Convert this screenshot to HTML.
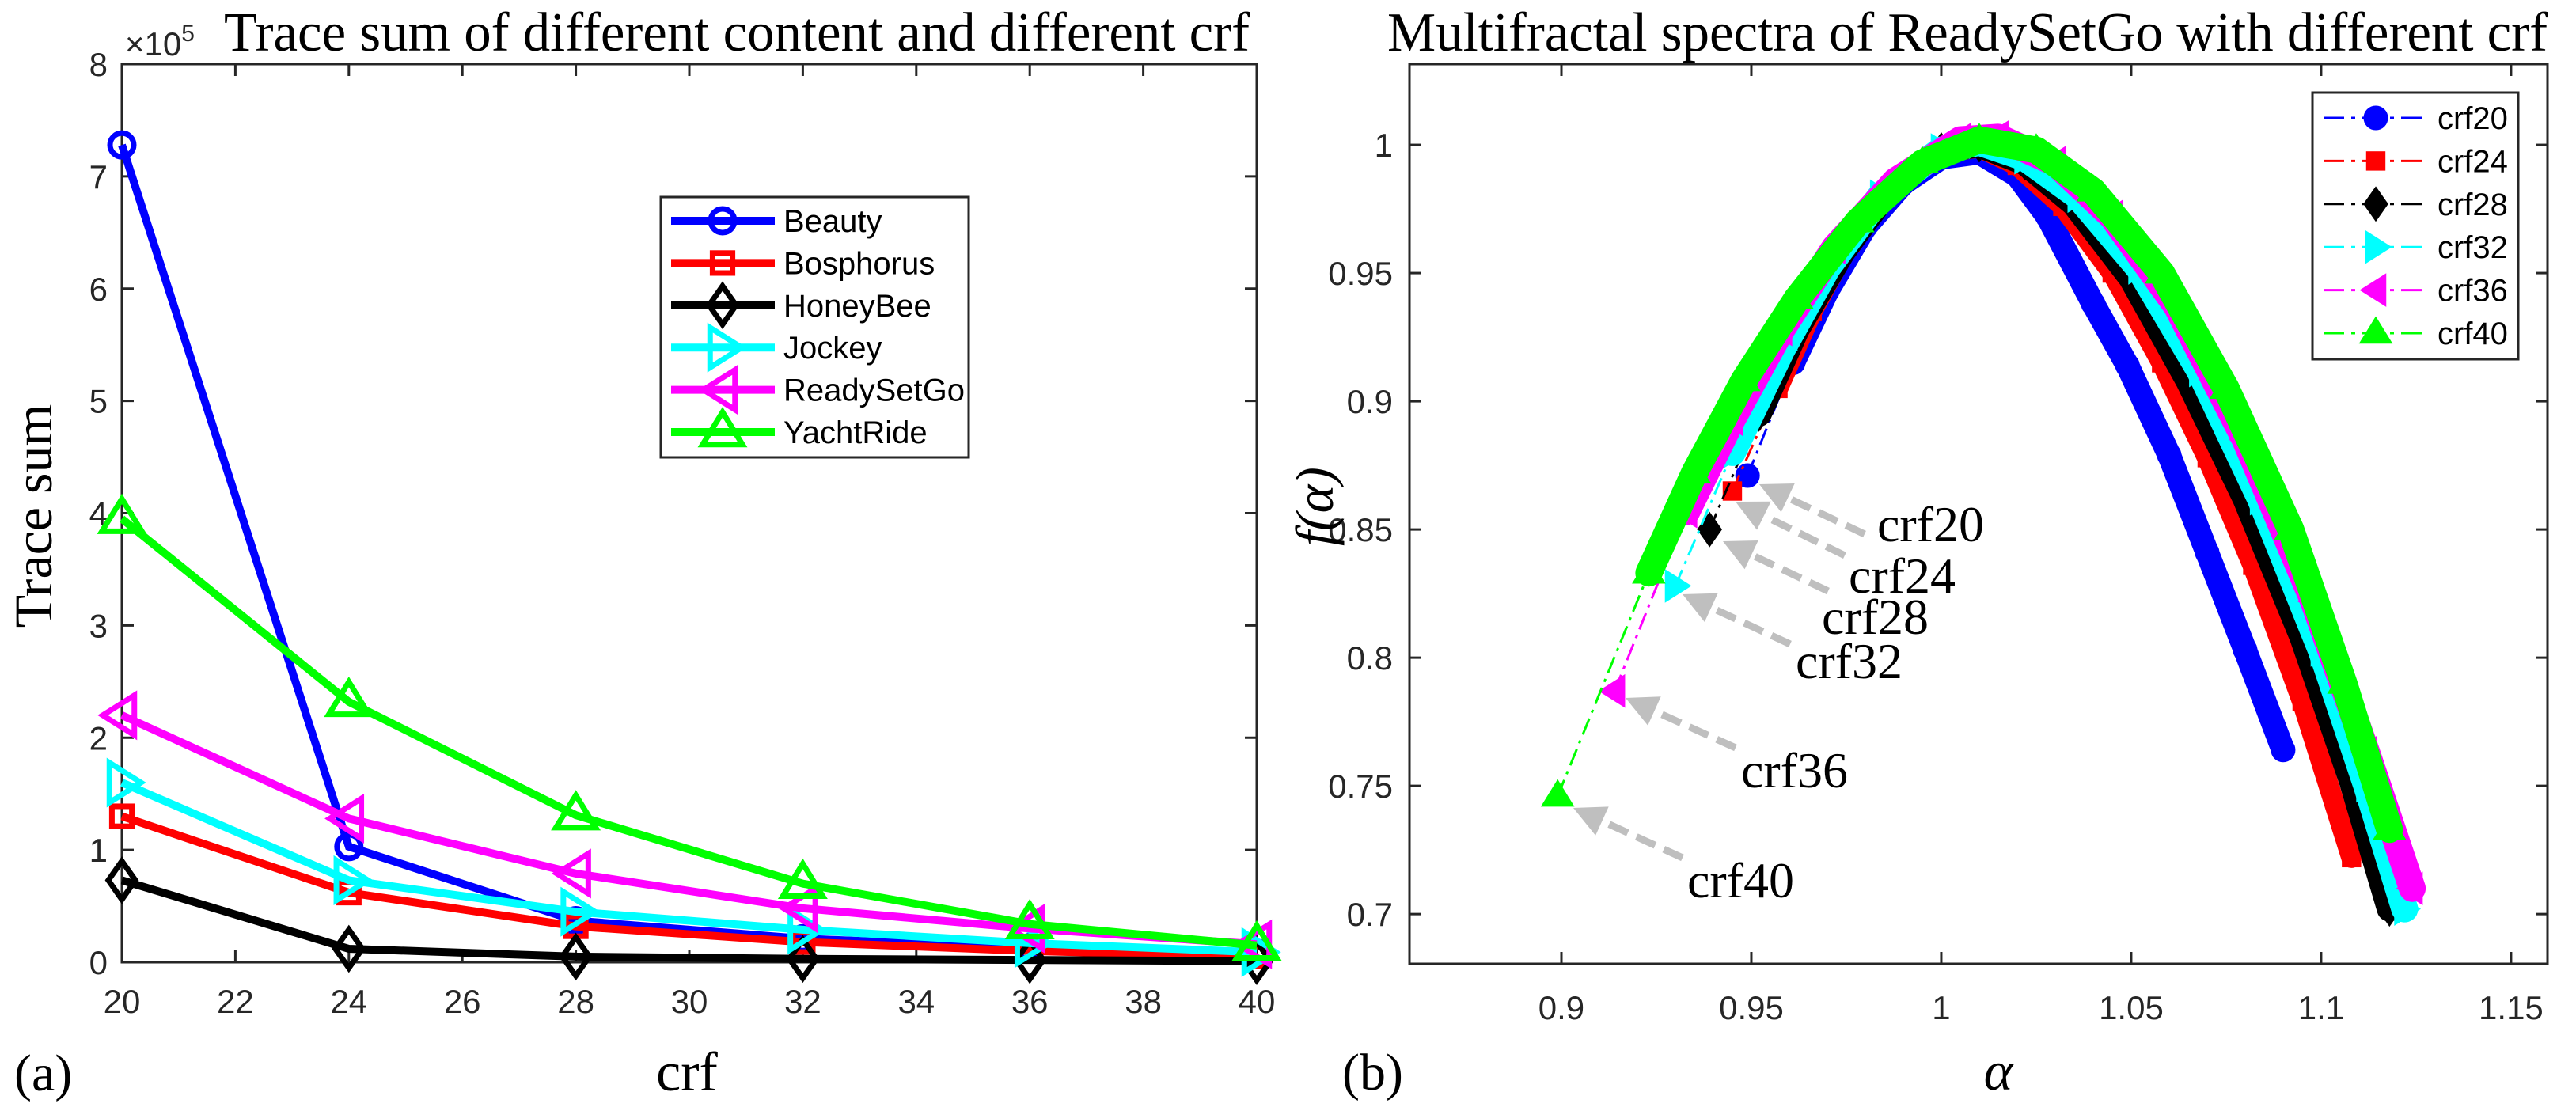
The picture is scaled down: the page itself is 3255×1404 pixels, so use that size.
<!DOCTYPE html>
<html><head><meta charset="utf-8"><style>
html,body{margin:0;padding:0;background:#fff;}
svg{display:block;}
.tk{font-family:"Liberation Sans",Arial,sans-serif;font-size:42px;fill:#262626;}
.tt{font-family:"Liberation Serif","Times New Roman",serif;fill:#000;}
</style></head><body>
<svg id="fig" xmlns="http://www.w3.org/2000/svg" width="3255" height="1404" viewBox="0 0 3255 1404">
<rect x="0" y="0" width="3255" height="1404" fill="#fff"/>
<g id="left"></g>
<g id="right"></g>
</svg>
<script>
// ---------- Left chart data (x1e5) ----------
const crfValues = [20, 24, 28, 32, 36, 40];
const seriesNames = ["Beauty", "Bosphorus", "HoneyBee", "Jockey", "ReadySetGo", "YachtRide"];
const beautyVals = [7.28, 1.03, 0.37, 0.21, 0.13, 0.08];
const bosphorusVals = [1.30, 0.62, 0.32, 0.18, 0.10, 0.05];
const honeyBeeVals = [0.73, 0.12, 0.05, 0.03, 0.02, 0.01];
const jockeyVals = [1.60, 0.73, 0.45, 0.29, 0.17, 0.09];
const readySetGoVals = [2.20, 1.28, 0.79, 0.48, 0.30, 0.16];
const yachtRideVals = [3.95, 2.32, 1.31, 0.70, 0.34, 0.15];
const leftXTicks = [20, 22, 24, 26, 28, 30, 32, 34, 36, 38, 40];
const leftYTicks = [0, 1, 2, 3, 4, 5, 6, 7, 8];

// ---------- Right chart data ----------
const specNames = ["crf20", "crf24", "crf28", "crf32", "crf36", "crf40"];
const alpha20 = [0.949,0.961,0.970,0.980,0.990,1.000,1.010,1.020,1.028,1.040,1.049,1.060,1.070,1.080,1.090];
const f20 = [0.871,0.915,0.943,0.968,0.985,0.995,0.997,0.988,0.972,0.938,0.914,0.879,0.841,0.803,0.764];
const alpha24 = [0.945,0.957,0.966,0.976,0.988,1.000,1.010,1.020,1.032,1.045,1.058,1.070,1.082,1.095,1.108];
const f24 = [0.865,0.905,0.935,0.962,0.985,0.997,0.999,0.992,0.976,0.950,0.915,0.878,0.836,0.783,0.722];
const alpha28 = [0.939,0.952,0.962,0.974,0.986,1.000,1.010,1.022,1.035,1.050,1.065,1.080,1.095,1.108,1.118];
const f28 = [0.850,0.895,0.928,0.958,0.982,0.998,1.000,0.993,0.977,0.948,0.908,0.862,0.808,0.752,0.702];
const alpha32 = [0.930,0.945,0.958,0.970,0.984,1.000,1.010,1.022,1.036,1.052,1.068,1.084,1.100,1.112,1.122];
const f32 = [0.828,0.880,0.920,0.952,0.980,0.998,1.001,0.995,0.980,0.952,0.912,0.862,0.803,0.750,0.702];
const alpha36 = [0.914,0.933,0.945,0.958,0.972,0.988,1.005,1.015,1.030,1.045,1.062,1.080,1.098,1.112,1.124];
const f36 = [0.787,0.857,0.893,0.928,0.960,0.986,1.002,1.003,0.993,0.972,0.937,0.885,0.822,0.763,0.710];
const alpha40 = [0.899,0.923,0.935,0.948,0.962,0.978,0.995,1.010,1.025,1.040,1.058,1.075,1.092,1.106,1.118];
const f40 = [0.746,0.833,0.872,0.908,0.940,0.970,0.993,1.002,0.998,0.982,0.950,0.905,0.850,0.790,0.733];
const rightXTicks = [0.9, 0.95, 1, 1.05, 1.1, 1.15];
const rightYTicks = [0.7, 0.75, 0.8, 0.85, 0.9, 0.95, 1];

const NS = "http://www.w3.org/2000/svg";
function mk(tag, attrs, parent){ const e=document.createElementNS(NS,tag); for(const k in attrs) e.setAttribute(k,attrs[k]); parent.appendChild(e); return e; }

const L = {x0:154, x1:1588, y0:1216, y1:81, xmin:20, xmax:40, ymin:0, ymax:8};
function lx(v){ return L.x0 + (v-L.xmin)/(L.xmax-L.xmin)*(L.x1-L.x0); }
function ly(v){ return L.y0 - (v-L.ymin)/(L.ymax-L.ymin)*(L.y0-L.y1); }
const R = {x0:1781, x1:3219, y0:1218, y1:81, xmin:0.86, xmax:1.1596, ymin:0.6806, ymax:1.0315};
function rx(v){ return R.x0 + (v-R.xmin)/(R.xmax-R.xmin)*(R.x1-R.x0); }
function ry(v){ return R.y0 - (v-R.ymin)/(R.ymax-R.ymin)*(R.y0-R.y1); }

function marker(g, type, x, y, s, color, filled, sw){
  let e;
  const fill = filled ? color : "none";
  const st = {stroke:color, "stroke-width":filled?1:sw, fill:fill, "stroke-linejoin":"miter"};
  if(type==="o"){ e=mk("circle",Object.assign({cx:x,cy:y,r:s},st),g); }
  else if(type==="s"){ e=mk("rect",Object.assign({x:x-s*0.9,y:y-s*0.9,width:s*1.8,height:s*1.8},st),g); }
  else { let p;
    if(type==="d") p=[[x,y-s*1.35],[x+s*0.95,y],[x,y+s*1.35],[x-s*0.95,y]];
    else if(type===">") p=[[x-s*0.75,y-s*1.2],[x+s*1.15,y],[x-s*0.75,y+s*1.2]];
    else if(type==="<") p=[[x+s*0.75,y-s*1.2],[x-s*1.15,y],[x+s*0.75,y+s*1.2]];
    else p=[[x,y-s*1.2],[x+s*1.2,y+s*0.75],[x-s*1.2,y+s*0.75]];
    e=mk("polygon",Object.assign({points:p.map(q=>q.join(",")).join(" ")},st),g);
  }
  return e;
}

const colors = ["#0000ff","#ff0000","#000000","#00ffff","#ff00ff","#00ff00"];
const mtypes = ["o","s","d",">","<","^"];
const lsz = [15,14,18,21,21,21];

// ================= LEFT CHART =================
const lg = document.getElementById("left");
{
  const frame = mk("rect",{x:L.x0,y:L.y1,width:L.x1-L.x0,height:L.y0-L.y1,fill:"none",stroke:"#262626","stroke-width":3},lg);
  
  
  leftXTicks.forEach(t=>{
    const x=lx(t);
    mk("line",{x1:x,y1:L.y0,x2:x,y2:L.y0-15,stroke:"#262626","stroke-width":3},lg);
    mk("line",{x1:x,y1:L.y1,x2:x,y2:L.y1+15,stroke:"#262626","stroke-width":3},lg);
    const tx=mk("text",{x:x,y:L.y0+64,"text-anchor":"middle",class:"tk"},lg); tx.textContent=t;
    
    
  });
  leftYTicks.forEach(t=>{
    const y=ly(t);
    mk("line",{x1:L.x0,y1:y,x2:L.x0+15,y2:y,stroke:"#262626","stroke-width":3},lg);
    mk("line",{x1:L.x1,y1:y,x2:L.x1-15,y2:y,stroke:"#262626","stroke-width":3},lg);
    const tx=mk("text",{x:136,y:y+15,"text-anchor":"end",class:"tk"},lg); tx.textContent=t;
    
    
  });
  const ex=mk("text",{x:158,y:70,class:"tk"},lg);
  ex.innerHTML='×10<tspan dy="-18" font-size="30">5</tspan>';
  
  

  const all=[beautyVals,bosphorusVals,honeyBeeVals,jockeyVals,readySetGoVals,yachtRideVals];
  all.forEach((vals,i)=>{
    const sg=mk("g",{},lg);
    
    
    const pts=vals.map((v,j)=>lx(crfValues[j])+","+ly(v)).join(" ");
    const pl=mk("polyline",{points:pts,fill:"none",stroke:colors[i],"stroke-width":10,"stroke-linejoin":"miter"},sg);
    
    
    vals.forEach((v,j)=>{
      const m=marker(sg,mtypes[i],lx(crfValues[j]),ly(v),lsz[i],colors[i],false,7);
      
      
    });
  });

  const leg=mk("g",{},lg);
  
  
  mk("rect",{x:835,y:249,width:389,height:329,fill:"#fff",stroke:"#262626","stroke-width":3},leg);
  seriesNames.forEach((n,i)=>{
    const y=279+i*53.4;
    const e=mk("g",{},leg);
    
    
    mk("line",{x1:848,y1:y,x2:979,y2:y,stroke:colors[i],"stroke-width":10},e);
    marker(e,mtypes[i],913,y,lsz[i],colors[i],false,7);
    const t=mk("text",{x:990,y:y+14,class:"tk"},e); t.textContent=n;
    t.style.fontSize="40px"; t.style.fill="#000";
  });

  const tl=mk("text",{x:931,y:64,"text-anchor":"middle",class:"tt","font-size":"70",textLength:"1296",lengthAdjust:"spacingAndGlyphs"},lg);
  tl.textContent="Trace sum of different content and different crf";
  
  
  const yl=mk("text",{x:0,y:0,transform:"translate(65,652) rotate(-90)","text-anchor":"middle",class:"tt","font-size":"68"},lg);
  yl.textContent="Trace sum";
  
  
  const xl=mk("text",{x:868,y:1378,"text-anchor":"middle",class:"tt","font-size":"70"},lg);
  xl.textContent="crf";
  
  
  const pa=mk("text",{x:18,y:1378,class:"tt","font-size":"66"},lg);
  pa.textContent="(a)";
  
  
}

// ================= RIGHT CHART =================
const rg = document.getElementById("right");
{
  const frame=mk("rect",{x:R.x0,y:R.y1,width:R.x1-R.x0,height:R.y0-R.y1,fill:"none",stroke:"#262626","stroke-width":3},rg);
  
  
  rightXTicks.forEach(t=>{
    const x=rx(t);
    mk("line",{x1:x,y1:R.y0,x2:x,y2:R.y0-15,stroke:"#262626","stroke-width":3},rg);
    mk("line",{x1:x,y1:R.y1,x2:x,y2:R.y1+15,stroke:"#262626","stroke-width":3},rg);
    const tx=mk("text",{x:x,y:R.y0+70,"text-anchor":"middle",class:"tk"},rg); tx.textContent=String(t);
    
    
  });
  rightYTicks.forEach(t=>{
    const y=ry(t);
    mk("line",{x1:R.x0,y1:y,x2:R.x0+15,y2:y,stroke:"#262626","stroke-width":3},rg);
    mk("line",{x1:R.x1,y1:y,x2:R.x1-15,y2:y,stroke:"#262626","stroke-width":3},rg);
    const tx=mk("text",{x:1760,y:y+15,"text-anchor":"end",class:"tk"},rg); tx.textContent=String(t);
    
    
  });

  const A=[alpha20,alpha24,alpha28,alpha32,alpha36,alpha40];
  const F=[f20,f24,f28,f32,f36,f40];
  const msz=[15,13,16,17,17,17];
  A.forEach((al,i)=>{
    const sg=mk("g",{},rg);
    
    
    const pts=al.map((a,j)=>rx(a)+","+ry(F[i][j]));
    const dl=mk("polyline",{points:pts.join(" "),fill:"none",stroke:colors[i],"stroke-width":3,"stroke-dasharray":"22,8,4,8"},sg);
    
    
    const band=mk("polyline",{points:pts.slice(1).join(" "),fill:"none",stroke:colors[i],"stroke-width":msz[i]*2,"stroke-linejoin":"round","stroke-linecap":"round"},sg);
    
    
    al.forEach((a,j)=>{
      const m=marker(sg,mtypes[i],rx(a),ry(F[i][j]),msz[i],colors[i],true,1);
      
      
    });
  });

  const ann=[["crf20",2372,684,2356,675,2223,612],["crf24",2336,749,2331,702,2193,634],["crf28",2302,801,2310,747,2177,684],
             ["crf32",2269,857,2262,814,2126,751],["crf36",2200,995,2193,945,2054,882],["crf40",2132,1134,2126,1084,1988,1021]];
  ann.forEach(a=>{
    const g=mk("g",{},rg);
    
    
    const dx=a[5]-a[3], dy=a[6]-a[4], L2=Math.hypot(dx,dy), ux=dx/L2, uy=dy/L2;
    const bx=a[5]-ux*40, by=a[6]-uy*40;
    mk("line",{x1:a[3],y1:a[4],x2:bx,y2:by,stroke:"#bfbfbf","stroke-width":9,"stroke-dasharray":"26,12"},g);
    mk("polygon",{points:[a[5]+","+a[6],(bx-uy*20)+","+(by+ux*20),(bx+uy*20)+","+(by-ux*20)].join(" "),fill:"#bfbfbf"},g);
    const t=mk("text",{x:a[1],y:a[2],class:"tt","font-size":"64"},g); t.textContent=a[0];
  });

  const leg=mk("g",{},rg);
  
  
  mk("rect",{x:2922,y:117,width:260,height:337,fill:"#fff",stroke:"#262626","stroke-width":3},leg);
  specNames.forEach((n,i)=>{
    const y=149+i*54.4;
    const e=mk("g",{},leg);
    
    
    mk("line",{x1:2936,y1:y,x2:3069,y2:y,stroke:colors[i],"stroke-width":3,"stroke-dasharray":"26,9,5,9"},e);
    marker(e,mtypes[i],3002,y,msz[i],colors[i],true,1);
    const t=mk("text",{x:3080,y:y+14,class:"tk"},e); t.textContent=n;
    t.style.fontSize="40px"; t.style.fill="#000";
  });

  const tr=mk("text",{x:2486,y:64,"text-anchor":"middle",class:"tt","font-size":"70",textLength:"1466",lengthAdjust:"spacingAndGlyphs"},rg);
  tr.textContent="Multifractal spectra of ReadySetGo with different crf";
  
  
  const yl=mk("text",{x:0,y:0,transform:"translate(1684,640) rotate(-90)","text-anchor":"middle",class:"tt","font-size":"68","font-style":"italic"},rg);
  yl.textContent="f(α)";
  
  
  const xl=mk("text",{x:2525,y:1377,"text-anchor":"middle",class:"tt","font-size":"70","font-style":"italic"},rg);
  xl.textContent="α";
  
  
  const pb=mk("text",{x:1696,y:1377,class:"tt","font-size":"66"},rg);
  pb.textContent="(b)";
  
  
}
</script>
</body></html>
